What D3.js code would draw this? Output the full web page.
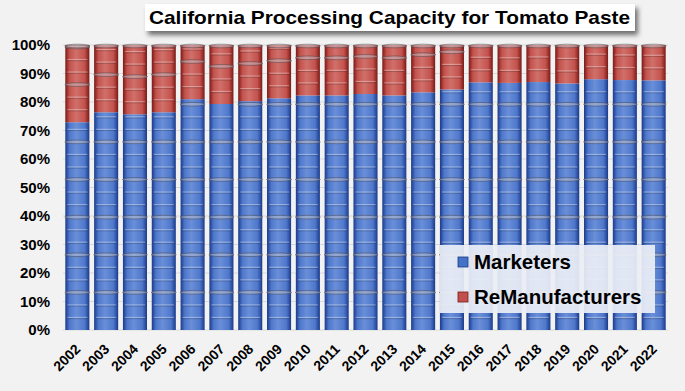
<!DOCTYPE html>
<html>
<head>
<meta charset="utf-8">
<script src="https://cdn.jsdelivr.net/npm/d3@7"></script>
<style>
  body { margin: 0; background: #f2f2f2; }
  svg { display: block; font-family: "Liberation Sans", Arial, sans-serif; }
</style>
</head>
<body>
<div id="bdy"></div>
<script>
var width = 685;
var height = 391;

// chart values
var years = ["2002","2003","2004","2005","2006","2007","2008","2009","2010","2011","2012",
             "2013","2014","2015","2016","2017","2018","2019","2020","2021","2022"];
var marketers = [72.9,76.4,75.7,76.4,81.0,79.3,80.3,81.3,82.3,82.3,82.8,
                 82.3,83.4,84.4,86.9,86.7,87.0,86.5,88.0,87.7,87.6];
var remanufacturers = [27.1,23.6,24.3,23.6,19.0,20.7,19.7,18.7,17.7,17.7,17.2,
                       17.7,16.6,15.6,13.1,13.3,13.0,13.5,12.0,12.3,12.4];
var seriesNames = ["Marketers", "ReManufacturers"];
var yTicks = [0,10,20,30,40,50,60,70,80,90,100];
var title = "California Processing Capacity for Tomato Paste";

var colors = {
  Marketers: {edge: "#1a3a8a", mid: "#4f78cc", light: "#6a8fd8", base: "#4472c4"},
  ReManufacturers: {edge: "#7a1a16", mid: "#c4524d", light: "#d0706a", base: "#c0504d"}
};

var margin = {top: 45, right: 17, bottom: 61, left: 63};

var svg = d3.select('#bdy').append('svg')
    .attr('width', width)
    .attr('height', height);

svg.append('rect').attr('width', width).attr('height', height).attr('fill', '#f2f2f2');

var defs = svg.append('defs');
seriesNames.forEach(function(s){
  var g = defs.append('linearGradient').attr('id', 'grad' + s)
      .attr('x1', '0%').attr('x2', '100%').attr('y1', '0%').attr('y2', '0%');
  g.append('stop').attr('offset', '0%').attr('stop-color', colors[s].edge);
  g.append('stop').attr('offset', '18%').attr('stop-color', colors[s].mid);
  g.append('stop').attr('offset', '45%').attr('stop-color', colors[s].light);
  g.append('stop').attr('offset', '80%').attr('stop-color', colors[s].mid);
  g.append('stop').attr('offset', '100%').attr('stop-color', colors[s].edge);
});
var shadow = defs.append('filter').attr('id', 'shadow')
    .attr('x', '-10%').attr('y', '-30%').attr('width', '130%').attr('height', '190%');
shadow.append('feDropShadow').attr('dx', 3).attr('dy', 4).attr('stdDeviation', 2.5)
    .attr('flood-color', '#000').attr('flood-opacity', 0.55);

var xScale = d3.scaleBand()
    .domain(years)
    .range([margin.left, width - margin.right])
    .paddingInner(0.165)
    .paddingOuter(0.08);

var yScale = d3.scaleLinear()
    .domain([0, 100])
    .range([height - margin.bottom, margin.top]);

// gridlines
svg.append('g')
  .selectAll('line')
  .data(yTicks)
  .enter().append('line')
    .attr('x1', margin.left).attr('x2', width - margin.right)
    .attr('y1', function(d){ return yScale(d); })
    .attr('y2', function(d){ return yScale(d); })
    .attr('stroke', '#d9d9d9')
    .attr('stroke-width', 1);

// stacked data
var rows = years.map(function(y, i){
  return {year: y, Marketers: marketers[i], ReManufacturers: remanufacturers[i]};
});
var stacked = d3.stack().keys(seriesNames)(rows);

var unitPx = yScale(0) - yScale(13.2);   // height of one barrel in the picture fill
var bw = xScale.bandwidth();

var layers = svg.append('g').selectAll('g')
    .data(stacked)
    .enter().append('g');

layers.each(function(layer){
  var s = layer.key;
  var g = d3.select(this);
  layer.forEach(function(d){
    var x = xScale(d.data.year);
    var yTop = yScale(d[1]);
    var yBot = yScale(d[0]);
    g.append('rect')
      .attr('x', x).attr('y', yTop)
      .attr('width', bw).attr('height', yBot - yTop)
      .attr('fill', 'url(#grad' + s + ')');

    // barrel hoops and ribs stacked up from the segment bottom
    var hoops = [];
    var ribs = [];
    for (var k = 0; yBot - k * unitPx > yTop + 1; k++) {
      var base = yBot - k * unitPx;
      if (k > 0) hoops.push(base);
      [1, 2].forEach(function(j){
        var r = base - j * unitPx / 3;
        if (r > yTop + 2) ribs.push(r);
      });
    }
    if (d[1] >= 99.9) hoops.push(yTop + 1);

    ribs.forEach(function(r){
      g.append('line')
        .attr('x1', x + 2).attr('x2', x + bw - 2)
        .attr('y1', r).attr('y2', r)
        .attr('stroke', 'rgba(255,255,255,0.35)').attr('stroke-width', 1.2);
      g.append('line')
        .attr('x1', x + 2).attr('x2', x + bw - 2)
        .attr('y1', r + 1.2).attr('y2', r + 1.2)
        .attr('stroke', 'rgba(0,0,0,0.25)').attr('stroke-width', 0.8);
    });
    hoops.forEach(function(h){
      g.append('ellipse')
        .attr('cx', x + bw / 2).attr('cy', h)
        .attr('rx', bw / 2 + 0.5).attr('ry', 1.8)
        .attr('fill', 'rgba(200,200,205,0.45)')
        .attr('stroke', 'rgba(60,60,70,0.6)').attr('stroke-width', 0.8);
    });
  });
});

// y axis labels
svg.append('g')
  .selectAll('text')
  .data(yTicks)
  .enter().append('text')
    .attr('x', 50)
    .attr('y', function(d){ return yScale(d); })
    .attr('dy', '0.36em')
    .attr('text-anchor', 'end')
    .style('font-size', '15px')
    .style('font-weight', 'bold')
    .attr('fill', '#000')
    .text(function(d){ return d + '%'; });

// x axis labels
svg.append('g')
  .selectAll('text')
  .data(years)
  .enter().append('text')
    .attr('transform', function(d){
      return 'translate(' + (xScale(d) + bw / 2 + 4) + ',' + (yScale(0) + 20) + ') rotate(-45)';
    })
    .attr('text-anchor', 'end')
    .style('font-size', '14px')
    .style('font-weight', 'bold')
    .attr('fill', '#000')
    .text(function(d){ return d; });

// title box
var tb = svg.append('g');
tb.append('rect')
  .attr('x', 145).attr('y', 4).attr('width', 490).attr('height', 27)
  .attr('fill', '#fff')
  .attr('filter', 'url(#shadow)');
tb.append('text')
  .attr('x', 149).attr('y', 23.5)
  .attr('textLength', 481)
  .attr('lengthAdjust', 'spacingAndGlyphs')
  .style('font-size', '19px')
  .style('font-weight', 'bold')
  .attr('fill', '#000')
  .text(title);

// legend
var lg = svg.append('g');
lg.append('rect')
  .attr('x', 440).attr('y', 245).attr('width', 215).attr('height', 68)
  .attr('fill', 'rgba(235,238,245,0.93)');
seriesNames.forEach(function(s, i){
  var cy = 262 + i * 35;
  lg.append('rect')
    .attr('x', 458).attr('y', cy - 5).attr('width', 10).attr('height', 10)
    .attr('fill', colors[s].base)
    .attr('stroke', colors[s].edge).attr('stroke-width', 0.8);
  lg.append('text')
    .attr('x', 474).attr('y', cy)
    .attr('dy', '0.36em')
    .style('font-size', '20.5px')
    .style('font-weight', 'bold')
    .attr('fill', '#000')
    .text(s);
});
</script>
</body>
</html>
